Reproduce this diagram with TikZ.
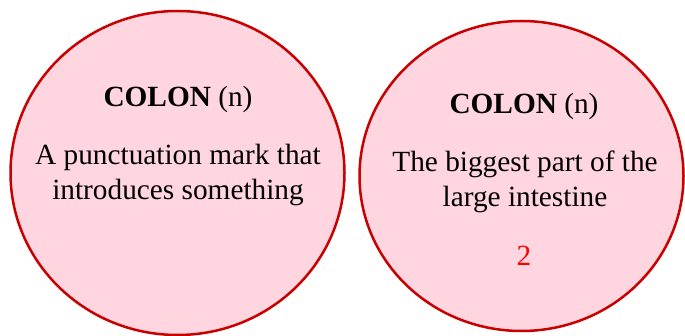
\documentclass[tikz,border=0pt]{standalone}
\usepackage{fontspec}
\setmainfont{Liberation Serif}
\usetikzlibrary{shapes.geometric}
\definecolor{bubblefill}{HTML}{FFD5DF}
\definecolor{bubbleline}{HTML}{C80000}
\definecolor{numred}{HTML}{FF0000}
\begin{document}
\begin{tikzpicture}[x=1pt,y=-1pt,
  bubble/.style={ellipse, draw=bubbleline, fill=bubblefill, line width=2.5pt, inner sep=0pt},
  txt/.style={anchor=base, inner sep=0pt, font=\fontsize{29.3}{36}\selectfont}]
\useasboundingbox (0,0) rectangle (685,336);
\node[bubble, minimum width=334pt, minimum height=324pt] (left) at (177.5,173) {};
\node[bubble, minimum width=324pt, minimum height=310pt] (right) at (521.5,176) {};
\node[txt] (l1) at (178,107) {\textbf{COLON} (n)};
\node[txt] (l2) at (178,165) {A punctuation mark that};
\node[txt] (l3) at (178,200) {introduces something};
\node[txt] (r1) at (524,114) {\textbf{COLON} (n)};
\node[txt] (r2) at (525,172) {The biggest part of the};
\node[txt] (r3) at (525,207) {large intestine};
\node[txt, text=numred] (r4) at (524,266) {2};
\end{tikzpicture}
\end{document}
